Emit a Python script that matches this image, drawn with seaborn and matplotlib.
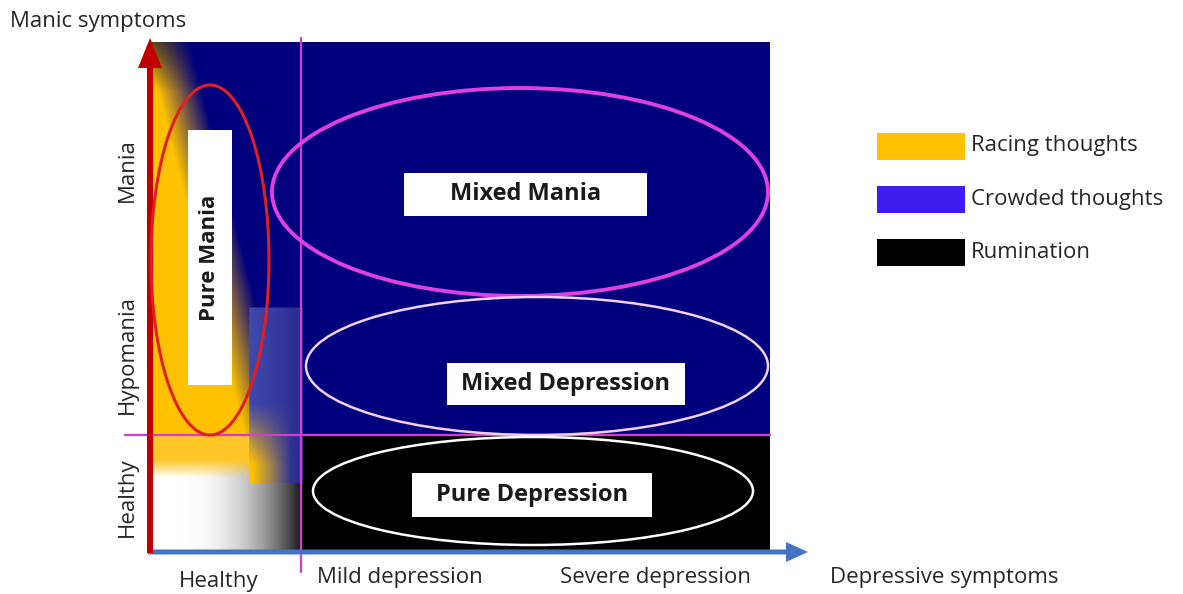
import numpy as np
import matplotlib
matplotlib.use('Agg')
import matplotlib.pyplot as plt
import seaborn as sns
from matplotlib.patches import Rectangle, Ellipse

# --- Chart content ---
ZONE_LABELS = ['Pure Mania', 'Mixed Mania', 'Mixed Depression', 'Pure Depression']
MANIC_LEVELS = ['Mania', 'Hypomania', 'Healthy']
DEPRESSIVE_LEVELS = ['Healthy', 'Mild depression', 'Severe depression']
LEGEND_LABELS = ['Racing thoughts', 'Crowded thoughts', 'Rumination']
LEGEND_COLORS = ['#FFC000', '#3F1CF0', '#000000']
AXIS_TITLES = ['Manic symptoms', 'Depressive symptoms']

# --- Layout (pixel space of the 1183x594 canvas) ---
W, H = 1183, 594
NAVY = '#00007F'
MAGENTA = '#D33CD3'
TEXT = '#262626'
PLOT_L, PLOT_R, PLOT_T, PLOT_B = 150, 770, 42, 550
SPLIT_X, SPLIT_Y = 303, 435
OVL_L, OVL_T, OVL_B = 250, 308, 483

sns.set_theme(style='white')
plt.rcParams['font.family'] = ['Open Sans', 'DejaVu Sans']

fig = plt.figure(figsize=(W / 100, H / 100), dpi=100)
ax = fig.add_axes([0, 0, 1, 1])
ax.set_xlim(0, W)
ax.set_ylim(H, 0)
ax.axis('off')

# background blocks
ax.add_patch(Rectangle((PLOT_L, PLOT_T), PLOT_R - PLOT_L, SPLIT_Y - PLOT_T, color=NAVY, lw=0))
ax.add_patch(Rectangle((SPLIT_X, SPLIT_Y), PLOT_R - SPLIT_X, PLOT_B - SPLIT_Y, color='black', lw=0))

# left shaded band: yellow -> navy diagonal, yellow -> white/grey/black at the bottom
xs = np.arange(PLOT_L, SPLIT_X + 1)
ys = np.arange(PLOT_T, PLOT_B + 1)
X, Y = np.meshgrid(xs, ys)
yellow = np.array([1.0, 0.76, 0.0])
navy = np.array([0.0, 0.0, 0.5])
u = np.clip((Y - PLOT_T) / (SPLIT_Y - PLOT_T), 0, 1)
edge = 145 + 100 * u
t = np.clip((X - edge) / 45, 0, 1)[..., None]
dim = np.clip(0.45 + (Y - PLOT_T) / 90, 0, 1)[..., None]
top = yellow * dim * (1 - t) + navy * t
g = 1 - np.clip((X - 175) / 132, 0, 1) ** 2.4
grey = np.stack([g, g, g], axis=-1)
low_yellow = np.array([1.0, 0.78, 0.15])
s = np.clip((Y - 460) / 18, 0, 1)[..., None]
bottom = low_yellow * (1 - s) + grey * s
img = np.where((Y < SPLIT_Y)[..., None], top, bottom)

# translucent blue block sitting on the edge of the band
in_ovl = (X >= OVL_L) & (Y >= OVL_T) & (Y <= OVL_B)
h = np.clip((X - OVL_L) / (SPLIT_X - OVL_L), 0, 1)[..., None]
blue_l = np.array([0.26, 0.29, 0.68])
blue_r = np.array([0.16, 0.17, 0.55])
blue = blue_l * (1 - h) + blue_r * h
w = (np.clip((Y - 405) / 60, 0, 1) * np.clip((292 - X) / 40, 0, 1))[..., None]
ovl = blue * (1 - w) + yellow * w
img = np.where(in_ovl[..., None], ovl, img)
ax.imshow(img, extent=(PLOT_L, SPLIT_X, PLOT_B, PLOT_T), aspect='auto', zorder=1, interpolation='bilinear')

# dividing lines
ax.plot([SPLIT_X - 2, SPLIT_X - 2], [38, 572], color=MAGENTA, lw=1.6, zorder=4)
ax.plot([125, PLOT_R], [SPLIT_Y, SPLIT_Y], color=MAGENTA, lw=1.6, zorder=4)

# axes arrows
ax.arrow(148, 552, 660, 0, width=5, head_width=20, head_length=22,
         length_includes_head=True, color='#4472C4', lw=0, zorder=5)
ax.arrow(150, 553, 0, -515, width=6, head_width=24, head_length=30,
         length_includes_head=True, color='#C00000', lw=0, zorder=6)

# zone ellipses and labels
ellipses = [((210, 260), 118, 350, '#E02020', 2.2),
            ((520, 192), 496, 208, '#E040E0', 2.8),
            ((537, 366), 462, 138, '#F4D0F4', 1.8),
            ((533, 491), 440, 108, '#FFFFFF', 1.8)]
for (c, ew, eh, col, lw) in ellipses:
    ax.add_patch(Ellipse(c, ew, eh, fill=False, edgecolor=col, lw=lw, zorder=7))

boxes = [(188, 130, 44, 255, 90, 16), (404, 173, 243, 43, 0, 17),
         (447, 363, 238, 42, 0, 17), (412, 473, 240, 44, 0, 17)]
for label, (bx, by, bw, bh, rot, fs) in zip(ZONE_LABELS, boxes):
    ax.add_patch(Rectangle((bx, by), bw, bh, color='white', lw=0, zorder=8))
    ax.text(bx + bw / 2, by + bh / 2, label, rotation=rot, ha='center', va='center',
            fontsize=fs, fontweight='bold', color='#1a1a1a', zorder=9)

# axis level labels
for label, yc in zip(MANIC_LEVELS, [170, 355, 497]):
    ax.text(127, yc, label, rotation=90, ha='center', va='center', fontsize=16, color=TEXT)
for label, (xp, ha) in zip(DEPRESSIVE_LEVELS, [(219, 'center'), (317, 'left'), (560, 'left')]):
    ax.text(xp, 581 if label == 'Healthy' else 577, label, ha=ha, va='center', fontsize=16, color=TEXT)
ax.text(10, 22, AXIS_TITLES[0], ha='left', va='center', fontsize=16, color=TEXT)
ax.text(830, 577, AXIS_TITLES[1], ha='left', va='center', fontsize=16, color=TEXT)

# legend
for i, (label, col) in enumerate(zip(LEGEND_LABELS, LEGEND_COLORS)):
    y0 = 133 + i * 53
    ax.add_patch(Rectangle((877, y0), 88, 27, color=col, lw=0))
    ax.text(971, y0 + 13, label, ha='left', va='center', fontsize=16, color=TEXT)

fig.savefig('out.png', dpi=100)
